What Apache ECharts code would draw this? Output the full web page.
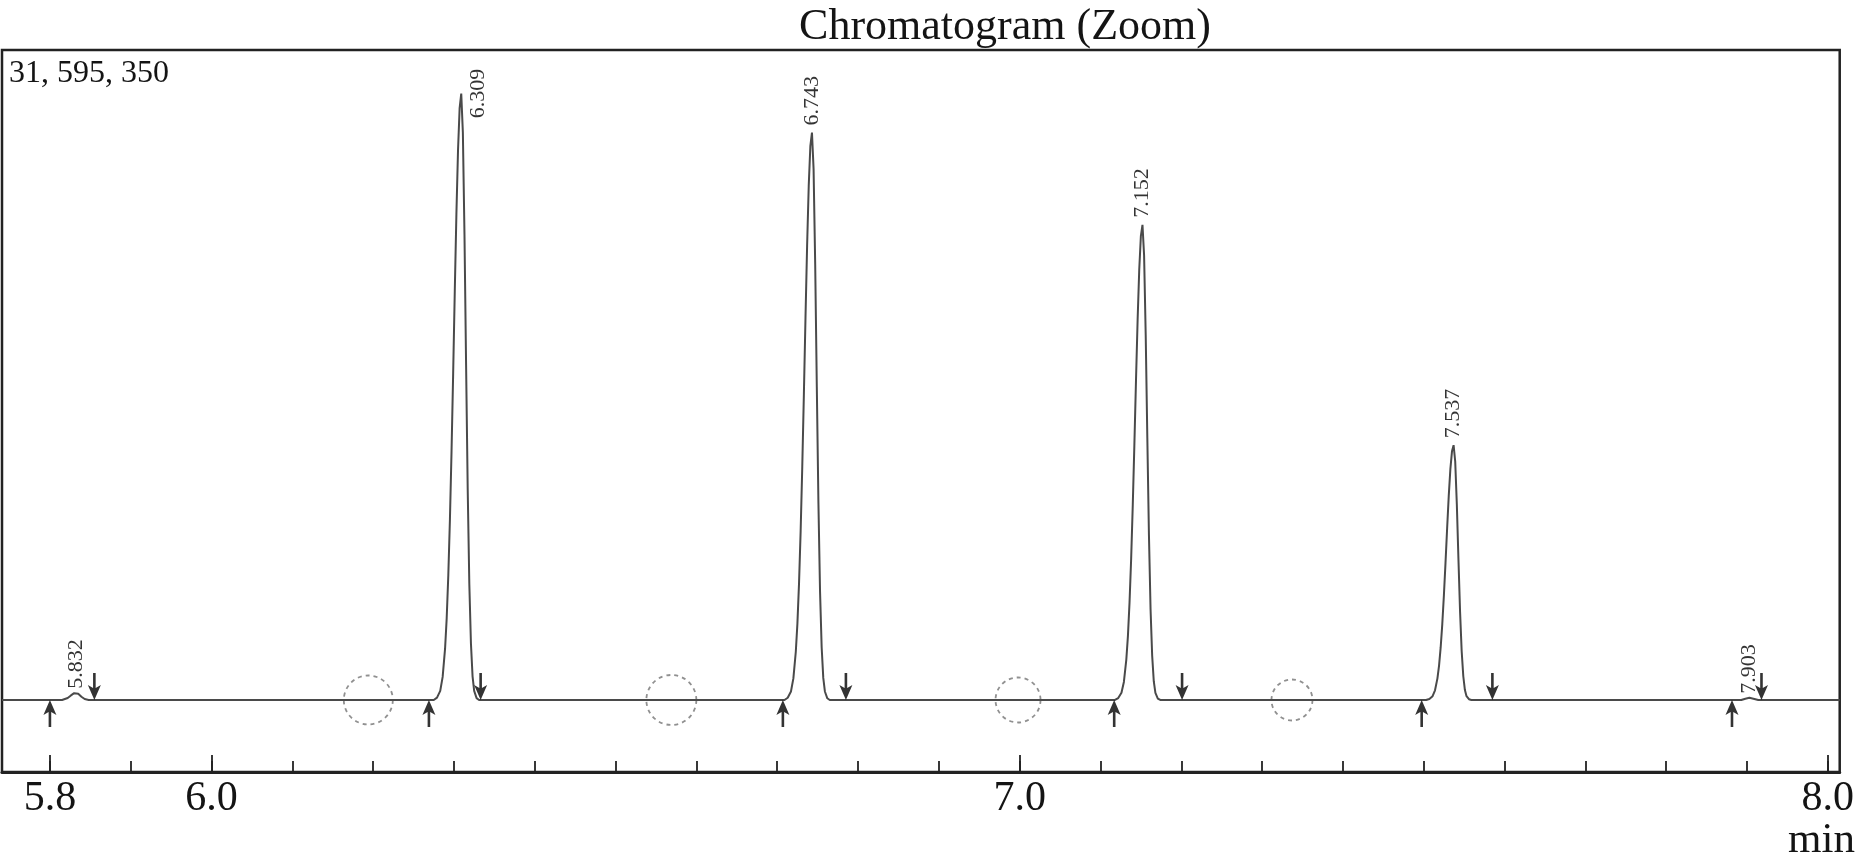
<!DOCTYPE html>
<html>
<head>
<meta charset="utf-8">
<script src="https://cdn.jsdelivr.net/npm/echarts@6/dist/echarts.min.js"></script>
<style>
html,body{margin:0;padding:0;background:#fff;}
#chart{width:1857px;height:867px;}
</style>
</head>
<body>
<div id="chart"></div>
<script>
// ---- data ----
const titleText = 'Chromatogram (Zoom)';
const cornerText = '31, 595, 350';
const axisUnit = 'min';
const xMin = 5.7407, xMax = 8.0148;
const yMin = -11.08, yMax = 100;
const minorTicks = [5.8,5.9,6.0,6.1,6.2,6.3,6.4,6.5,6.6,6.7,6.8,6.9,7.0,7.1,7.2,7.3,7.4,7.5,7.6,7.7,7.8,7.9,8.0];
const majorTicks = [5.8,6.0,7.0,8.0];

const bump5832 = [[5.815,0],[5.822,0.3],[5.826,0.7],[5.830,1.05],[5.832,1.1],[5.835,0.95],[5.839,0.5],[5.843,0.15],[5.848,0]];
const peak6309 = [[6.275,0],[6.279,0.37],[6.283,1.40],[6.286,3.55],[6.289,7.93],[6.291,12.60],[6.293,19.22],[6.295,27.80],[6.297,38.35],[6.299,50.29],[6.301,62.88],[6.303,74.73],[6.305,84.53],[6.307,91.06],[6.309,93.3],[6.311,87.33],[6.313,71.65],[6.315,51.50],[6.317,32.38],[6.319,17.82],[6.321,8.68],[6.323,3.64],[6.325,1.40],[6.328,0.28],[6.331,0]];
const peak6743 = [[6.709,0],[6.713,0.35],[6.717,1.31],[6.720,3.32],[6.723,7.42],[6.725,11.79],[6.727,17.98],[6.729,26.02],[6.731,35.88],[6.733,47.05],[6.735,58.84],[6.737,69.93],[6.739,79.09],[6.741,85.20],[6.743,87.3],[6.745,81.71],[6.747,67.05],[6.749,48.19],[6.751,30.29],[6.753,16.67],[6.755,8.12],[6.757,3.40],[6.759,1.31],[6.762,0.26],[6.765,0]];
const peak7152 = [[7.118,0],[7.122,0.29],[7.126,1.10],[7.129,2.78],[7.132,6.21],[7.134,9.87],[7.136,15.06],[7.138,21.78],[7.140,30.04],[7.142,39.40],[7.144,49.27],[7.146,58.55],[7.148,66.23],[7.150,71.35],[7.152,73.1],[7.154,68.42],[7.156,56.14],[7.158,40.35],[7.160,25.37],[7.162,13.96],[7.164,6.80],[7.166,2.85],[7.168,1.10],[7.171,0.22],[7.174,0]];
const peak7537 = [[7.503,0],[7.507,0.16],[7.511,0.59],[7.514,1.49],[7.517,3.33],[7.519,5.29],[7.521,8.08],[7.523,11.68],[7.525,16.11],[7.527,21.13],[7.529,26.42],[7.531,31.40],[7.533,35.52],[7.535,38.26],[7.537,39.2],[7.539,36.69],[7.541,30.11],[7.543,21.64],[7.545,13.60],[7.547,7.49],[7.549,3.65],[7.551,1.53],[7.553,0.59],[7.556,0.12],[7.559,0]];
const bump7903 = [[7.893,0],[7.898,0.2],[7.903,0.35],[7.908,0.2],[7.914,0]];

const peakTimes = [5.832, 6.309, 6.743, 7.152, 7.537, 7.903];
const peakHeights = [1.1, 93.3, 87.3, 73.1, 39.2, 0.35];
const peakStarts = [5.800, 6.269, 6.707, 7.117, 7.4975, 7.8815];
const peakEnds = [5.855, 6.333, 6.785, 7.201, 7.585, 7.918];
const markerCircles = [6.194, 6.569, 6.998, 7.337];

// ---- build ----
const trace = [[xMin,0]].concat(bump5832, peak6309, peak6743, peak7152, peak7537, bump7903, [[xMax,0]]);
const SERIF = "'Liberation Serif','DejaVu Serif',serif";
const INK = '#141414';
const circleSizes = [49, 50, 45, 41];

const upArrow = 'path://M6.5,0 L13,15 L7.8,12 L7.8,27 L5.2,27 L5.2,12 L0,15 Z';
const downArrow = 'path://M6.5,27 L13,12 L7.8,15 L7.8,0 L5.2,0 L5.2,15 L0,12 Z';

const chart = echarts.init(document.getElementById('chart'), null, {renderer:'canvas'});
chart.setOption({
  animation: false,
  backgroundColor: '#ffffff',
  grid: {left: 2, right: 13, top: 50, bottom: 95, show: true, borderColor: '#222', borderWidth: 2.5, containLabel: false},
  xAxis: [{
    type: 'value', min: xMin, max: xMax, position: 'bottom',
    axisLine: {show: true, onZero: false, lineStyle: {color: '#222', width: 3}},
    axisTick: {show: true, inside: true, length: 11, lineStyle: {color: '#222', width: 1.8}, customValues: minorTicks},
    axisLabel: {show: false},
    splitLine: {show: false}
  }, {
    type: 'value', min: xMin, max: xMax, position: 'bottom',
    axisLine: {show: false, onZero: false},
    axisTick: {show: true, inside: true, length: 17, lineStyle: {color: '#222', width: 1.8}, customValues: majorTicks},
    axisLabel: {show: true, customValues: majorTicks, margin: 6, fontFamily: SERIF, fontSize: 42, color: INK,
      formatter: v => v.toFixed(1)},
    splitLine: {show: false}
  }],
  yAxis: {type: 'value', min: yMin, max: yMax, show: false, splitLine: {show: false}},
  graphic: [
    {type: 'text', x: 1005, y: 27, style: {text: titleText, font: '44px ' + SERIF, fill: INK, align: 'center', verticalAlign: 'middle'}},
    {type: 'text', x: 9, y: 74, style: {text: cornerText, font: '32px ' + SERIF, fill: INK, align: 'left', verticalAlign: 'middle'}},
    {type: 'text', x: 1855, y: 841, style: {text: axisUnit, font: '43px ' + SERIF, fill: INK, align: 'right', verticalAlign: 'middle'}}
  ],
  series: [
    {
      type: 'line', name: 'trace', data: trace, showSymbol: false, symbol: 'none',
      lineStyle: {color: '#4a4a4a', width: 2}, z: 3, clip: true
    },
    {
      type: 'scatter', name: 'circles', data: markerCircles.map(t => [t, 0]),
      symbol: 'circle', symbolSize: (v, p) => circleSizes[p.dataIndex],
      itemStyle: {color: 'rgba(0,0,0,0)', borderColor: '#747474', borderWidth: 1.8, borderType: [4, 4]},
      z: 2, silent: true
    },
    {
      type: 'scatter', name: 'starts', data: peakStarts.map(t => [t, 0]),
      symbol: upArrow, symbolSize: [13, 27], symbolOffset: [0, 13.5],
      itemStyle: {color: '#000'}, z: 4
    },
    {
      type: 'scatter', name: 'ends', data: peakEnds.map(t => [t, 0]),
      symbol: downArrow, symbolSize: [13, 27], symbolOffset: [0, -13.5],
      itemStyle: {color: '#000'}, z: 4
    },
    {
      type: 'scatter', name: 'labels',
      data: peakTimes.map((t, i) => {
        const item = {value: [t, peakHeights[i]]};
        if (i === 1) {
          item.label = {position: 'right', distance: 17, align: 'center', verticalAlign: 'middle'};
        } else if (peakHeights[i] < 5) {
          item.label = {distance: 4};
        }
        return item;
      }),
      symbolSize: 0, z: 5,
      label: {
        show: true, position: 'top', distance: 7, rotate: 90, align: 'left', verticalAlign: 'middle',
        fontFamily: SERIF, fontSize: 22, color: '#000',
        formatter: p => p.value[0].toFixed(3)
      }
    }
  ]
});
</script>
</body>
</html>
